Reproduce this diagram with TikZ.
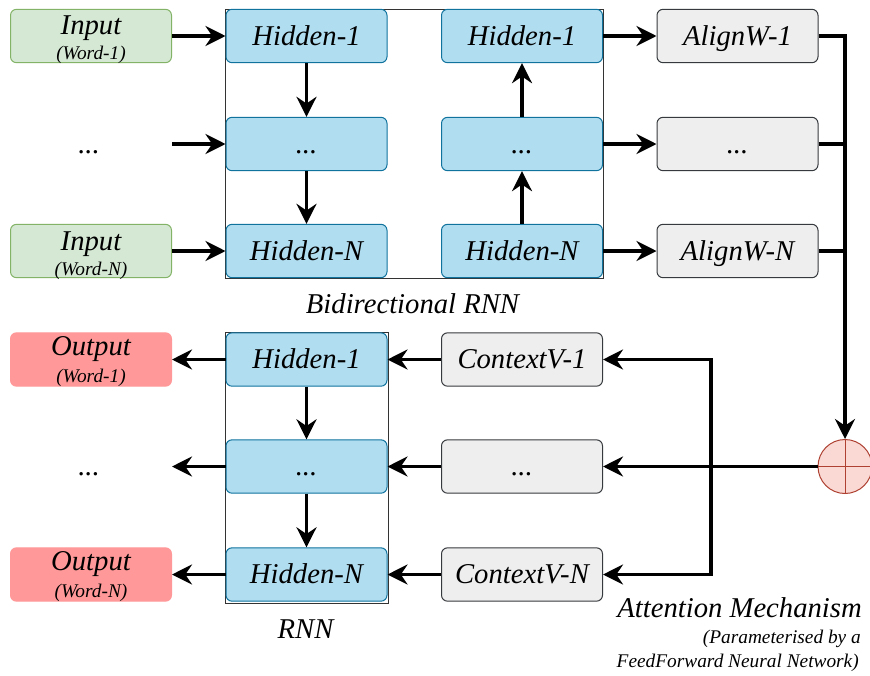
\documentclass[tikz,border=0pt]{standalone}
\usepackage{fontspec}
\setmainfont{Liberation Serif}
\usetikzlibrary{arrows.meta}

\definecolor{inFill}{HTML}{D5E8D4}
\definecolor{inLine}{HTML}{82B366}
\definecolor{hidFill}{HTML}{B1DDF0}
\definecolor{hidLine}{HTML}{10739E}
\definecolor{grayFill}{HTML}{EEEEEE}
\definecolor{grayLine}{HTML}{36393D}
\definecolor{outFill}{HTML}{FF9999}
\definecolor{sumFill}{HTML}{FAD9D5}
\definecolor{sumLine}{HTML}{AE4132}

\newcommand{\bigtxt}{\fontsize{21.5}{24}\selectfont\itshape}
\newcommand{\smalltxt}{\fontsize{14.5}{17}\selectfont\itshape}

\begin{document}
\begin{tikzpicture}[x=0.75pt,y=-0.75pt,
  block/.style={draw, rounded corners=4.5pt, line width=0.75pt, inner sep=0pt,
    minimum width=120.75pt, minimum height=40pt, font=\bigtxt,
    text height=14.2pt, text depth=0pt},
  inbox/.style={block, fill=inFill, draw=inLine},
  hidbox/.style={block, fill=hidFill, draw=hidLine},
  graybox/.style={block, fill=grayFill, draw=grayLine},
  outbox/.style={block, fill=outFill, draw=outFill},
  txt/.style={inner sep=0pt, font=\bigtxt, text height=14.2pt, text depth=0pt},
  main/.style={inner sep=0pt, font=\bigtxt, anchor=base},
  sub/.style={inner sep=0pt, font=\smalltxt, anchor=base},
  flow/.style={line width=2.6pt, -{Stealth[length=15pt,width=15pt,inset=5pt]}},
  wire/.style={line width=2.6pt},
  frame/.style={draw=black!80, line width=0.75pt}]

\useasboundingbox (0,0) rectangle (870,675);
\fill[white] (0,0) rectangle (870,675);

% group frames
\draw[frame] (225,9) rectangle (603,278);
\draw[frame] (225,332) rectangle (388,603);

% inputs
\node[inbox] (in1) at (91,36) {};
\node[main] (in1a) at (91,34) {Input};
\node[sub] (in1b) at (91,59.5) {(Word-1)};
\node[txt] (indots) at (89,144) {...};
\node[inbox] (inN) at (91,251) {};
\node[main] (inNa) at (91,250) {Input};
\node[sub] (inNb) at (91,275) {(Word-N)};
\coordinate (inm) at (172,144);

% bidirectional hidden states
\node[hidbox] (L1) at (306.5,36) {Hidden-1};
\node[hidbox] (Lm) at (306.5,144) {...};
\node[hidbox] (LN) at (306.5,251) {Hidden-N};
\node[hidbox] (R1) at (522,36) {Hidden-1};
\node[hidbox] (Rm) at (522,144) {...};
\node[hidbox] (RN) at (522,251) {Hidden-N};

% alignment weights
\node[graybox] (A1) at (737.5,36) {AlignW-1};
\node[graybox] (Am) at (737.5,144) {...};
\node[graybox] (AN) at (737.5,251) {AlignW-N};

% outputs
\node[outbox] (O1) at (91,359.5) {};
\node[main] (O1a) at (91,355) {Output};
\node[sub] (O1b) at (91,382) {(Word-1)};
\node[txt] (outdots) at (89,466.5) {...};
\node[outbox] (ON) at (91,574.5) {};
\node[main] (ONa) at (91,570.5) {Output};
\node[sub] (ONb) at (91,597) {(Word-N)};
\coordinate (outm) at (172,466.5);

% decoder hidden states
\node[hidbox] (H1) at (306.5,359.5) {Hidden-1};
\node[hidbox] (Hm) at (306.5,466.5) {...};
\node[hidbox] (HN) at (306.5,574.5) {Hidden-N};

% context vectors
\node[graybox] (C1) at (522,359.5) {ContextV-1};
\node[graybox] (Cm) at (522,466.5) {...};
\node[graybox] (CN) at (522,574.5) {ContextV-N};

% summation node
\node[circle, draw=sumLine, fill=sumFill, line width=0.75pt, minimum size=40.5pt,
  inner sep=0pt] (sum) at (845,466.5) {};
\draw[sumLine, line width=0.75pt] (sum.north) -- (sum.south) (sum.west) -- (sum.east);
\coordinate (bus) at (711,466.5);

% encoder connections
\draw[flow] (in1.east) -- (L1.west);
\draw[flow] (inm) -- (Lm.west);
\draw[flow] (inN.east) -- (LN.west);
\draw[flow] (L1) -- (Lm);
\draw[flow] (Lm) -- (LN);
\draw[flow] (RN) -- (Rm);
\draw[flow] (Rm) -- (R1);
\draw[flow] (R1) -- (A1);
\draw[flow] (Rm) -- (Am);
\draw[flow] (RN) -- (AN);

% attention
\draw[flow] (A1.east) -| (sum.north);
\draw[wire] (Am.east) -- (Am.east -| sum.north);
\draw[wire] (AN.east) -- (AN.east -| sum.north);
\draw[flow] (sum.west) -- (Cm.east);
\draw[line width=2.6pt, {Stealth[length=15pt,width=15pt,inset=5pt]}-{Stealth[length=15pt,width=15pt,inset=5pt]}]
  (C1.east) -- (bus |- C1.east) -- (bus |- CN.east) -- (CN.east);

% decoder connections
\draw[flow] (C1) -- (H1);
\draw[flow] (Cm) -- (Hm);
\draw[flow] (CN) -- (HN);
\draw[flow] (H1) -- (Hm);
\draw[flow] (Hm) -- (HN);
\draw[flow] (H1) -- (O1);
\draw[flow] (Hm.west) -- (outm);
\draw[flow] (HN) -- (ON);

% captions
\node[main] (capbi) at (412.5,313) {Bidirectional RNN};
\node[main] (caprnn) at (305.5,638) {RNN};
\node[main, anchor=base east] (capatt) at (862,617) {Attention Mechanism};
\node[sub, anchor=base east] (capatt2) at (861,643) {(Parameterised by a};
\node[sub, anchor=base east] (capatt3) at (859,667) {FeedForward Neural Network)};
\end{tikzpicture}
\end{document}
